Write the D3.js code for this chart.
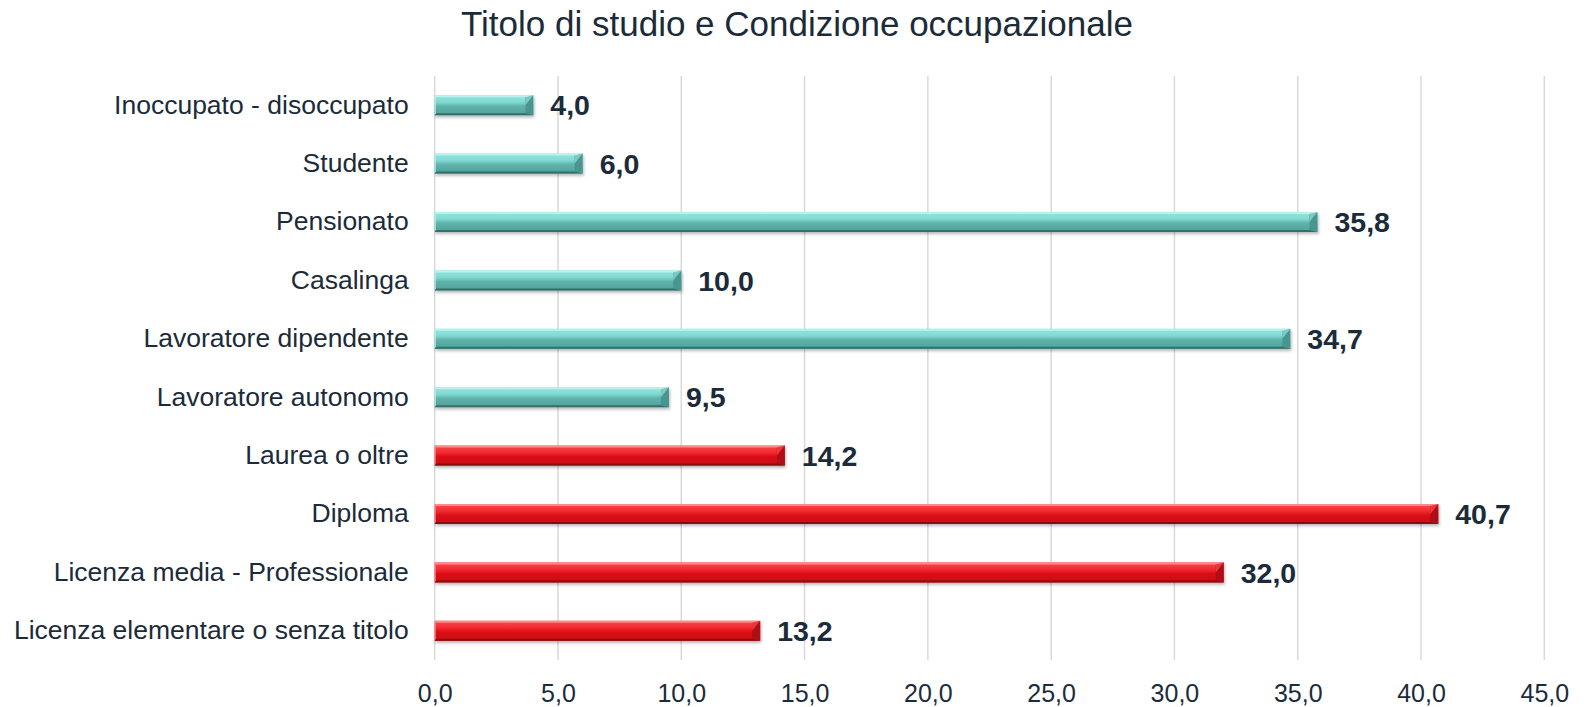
<!DOCTYPE html>
<html>
<head>
<meta charset="utf-8">
<script src="https://cdn.jsdelivr.net/npm/d3@7"></script>
<style>
  body { margin: 0; background: #fff; }
  text { font-family: "Liberation Sans", Arial, sans-serif; fill: #1c2b39; }
</style>
</head>
<body>
<div id="vis"></div>
<script>
// data (top to bottom, as in the picture)
const categories = [
  "Inoccupato - disoccupato",
  "Studente",
  "Pensionato",
  "Casalinga",
  "Lavoratore dipendente",
  "Lavoratore autonomo",
  "Laurea o oltre",
  "Diploma",
  "Licenza media - Professionale",
  "Licenza elementare o senza titolo"
];
const values = [4.0, 6.0, 35.8, 10.0, 34.7, 9.5, 14.2, 40.7, 32.0, 13.2];
const groups = ["occ", "occ", "occ", "occ", "occ", "occ", "edu", "edu", "edu", "edu"];
const tickValues = [0, 5, 10, 15, 20, 25, 30, 35, 40, 45];
const TITLE = "Titolo di studio e Condizione occupazionale";

// constants
const FRAME_WIDTH = 1586;
const FRAME_HEIGHT = 707;
const PLOT = {left: 434.7, right: 1544.3, top: 76, bottom: 660};

const COLORS = {
  occ: {light: "#b8f2ec", stops: ["#93e6df", "#80dad2", "#5fb3ab", "#529f99"], dark: "#33706b", side: "#4a958f", corner: "#7cc9c2"},
  edu: {light: "#ff8a8a", stops: ["#fb4a4f", "#f22a30", "#dc1016", "#cc0c12"], dark: "#8a0a0e", side: "#b10f15", corner: "#e8383d"}
};

const data = categories.map((c, i) => ({cat: c, val: values[i], grp: groups[i]}));

const FRAME = d3.select("#vis")
  .append("svg")
  .attr("width", FRAME_WIDTH)
  .attr("height", FRAME_HEIGHT);

const defs = FRAME.append("defs");
Object.keys(COLORS).forEach(k => {
  const g = defs.append("linearGradient")
    .attr("id", "face-" + k)
    .attr("x1", 0).attr("y1", 0).attr("x2", 0).attr("y2", 1);
  [0, 35, 55, 100].forEach((o, i) => {
    g.append("stop").attr("offset", o + "%").attr("stop-color", COLORS[k].stops[i]);
  });
});
defs.append("filter")
  .attr("id", "shadow")
  .attr("x", "-5%").attr("y", "-50%").attr("width", "110%").attr("height", "200%")
  .append("feDropShadow")
  .attr("dx", 1).attr("dy", 2).attr("stdDeviation", 1.8)
  .attr("flood-color", "#000").attr("flood-opacity", 0.28);

// scales
const X_SCALE = d3.scaleLinear()
  .domain([0, 45])
  .range([PLOT.left, PLOT.right]);

const Y_SCALE = d3.scaleBand()
  .domain(categories)
  .range([PLOT.top, PLOT.bottom])
  .paddingInner(0.6575)
  .paddingOuter(0.32875);

// title
FRAME.append("text")
  .attr("x", 461)
  .attr("y", 36)
  .attr("font-size", "35px")
  .text(TITLE);

// gridlines
FRAME.append("g")
  .selectAll("line")
  .data(tickValues)
  .enter()
  .append("line")
    .attr("x1", d => X_SCALE(d))
    .attr("x2", d => X_SCALE(d))
    .attr("y1", PLOT.top)
    .attr("y2", PLOT.bottom)
    .attr("stroke", "#d9d9d9")
    .attr("stroke-width", 1.5);

// x axis (labels only)
const xAxis = FRAME.append("g")
  .attr("transform", "translate(0," + PLOT.bottom + ")")
  .call(d3.axisBottom(X_SCALE)
    .tickValues(tickValues)
    .tickSize(0)
    .tickPadding(24)
    .tickFormat(d => d3.format(".1f")(d).replace(".", ",")));
xAxis.select(".domain").remove();
xAxis.selectAll("text")
  .attr("font-size", "25px")
  .attr("font-family", "Liberation Sans, Arial, sans-serif")
  .attr("fill", "#1c2b39");

// y axis (labels only)
const yAxis = FRAME.append("g")
  .attr("transform", "translate(" + PLOT.left + ",0)")
  .call(d3.axisLeft(Y_SCALE).tickSize(0).tickPadding(26));
yAxis.select(".domain").remove();
yAxis.selectAll("text")
  .attr("font-size", "26.5px")
  .attr("font-family", "Liberation Sans, Arial, sans-serif")
  .attr("fill", "#1c2b39");

// bars with bevel
const bars = FRAME.append("g")
  .selectAll("g.bar")
  .data(data)
  .enter()
  .append("g")
    .attr("class", "bar")
    .attr("filter", "url(#shadow)");

const BT = 2, BB = 2, BR = 8, BL = 1;

bars.append("rect")
  .attr("x", X_SCALE(0))
  .attr("y", d => Y_SCALE(d.cat))
  .attr("width", d => X_SCALE(d.val) - X_SCALE(0))
  .attr("height", Y_SCALE.bandwidth())
  .attr("fill", d => "url(#face-" + d.grp + ")");

function facet(d, which) {
  const x0 = X_SCALE(0), x1 = X_SCALE(d.val);
  const y0 = Y_SCALE(d.cat), y1 = y0 + Y_SCALE.bandwidth();
  const ix0 = x0 + BL, ix1 = x1 - BR, iy0 = y0 + BT, iy1 = y1 - BB;
  if (which === "top") return `M${x0},${y0}L${x1},${y0}L${ix1},${iy0}L${ix0},${iy0}Z`;
  if (which === "bottom") return `M${x0},${y1}L${x1},${y1}L${ix1},${iy1}L${ix0},${iy1}Z`;
  if (which === "right") return `M${x1},${y0}L${x1},${y1}L${ix1},${iy1}L${ix1},${iy0}Z`;
  if (which === "corner") return `M${x1},${y0}L${ix1},${iy0}L${ix1},${y0 + (y1 - y0) / 2}Z`;
  return `M${x0},${y0}L${x0},${y1}L${ix0},${iy1}L${ix0},${iy0}Z`;
}

bars.append("path").attr("d", d => facet(d, "right")).attr("fill", d => COLORS[d.grp].side);
bars.append("path").attr("d", d => facet(d, "corner")).attr("fill", d => COLORS[d.grp].corner);
bars.append("path").attr("d", d => facet(d, "top")).attr("fill", d => COLORS[d.grp].light);
bars.append("path").attr("d", d => facet(d, "bottom")).attr("fill", d => COLORS[d.grp].dark);
bars.append("path").attr("d", d => facet(d, "left")).attr("fill", d => COLORS[d.grp].light);

// value labels
FRAME.append("g")
  .selectAll("text")
  .data(data)
  .enter()
  .append("text")
    .attr("x", d => X_SCALE(d.val) + 17)
    .attr("y", d => Y_SCALE(d.cat) + Y_SCALE.bandwidth() / 2)
    .attr("dy", "0.36em")
    .attr("font-size", "28.5px")
    .attr("font-weight", "bold")
    .text(d => d3.format(".1f")(d.val).replace(".", ","));
</script>
</body>
</html>
